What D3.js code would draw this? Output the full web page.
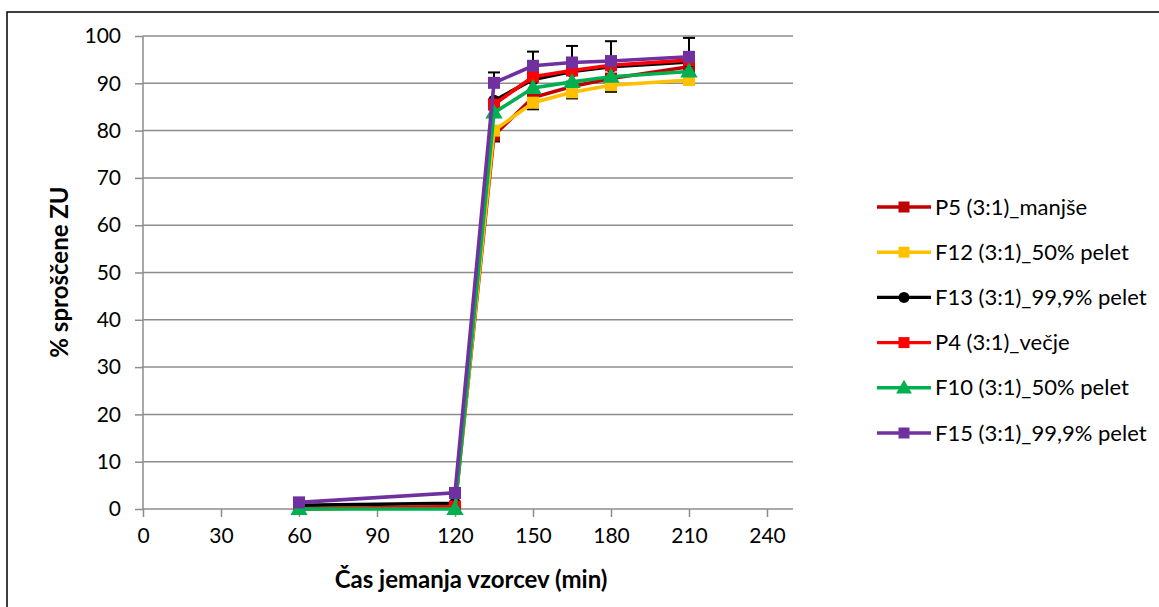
<!DOCTYPE html>
<html><head><meta charset="utf-8">
<script src="https://cdn.jsdelivr.net/npm/d3@7"></script>
<style>body{margin:0;background:#fff}svg{display:block}</style>
</head><body>
<script>
const times = [60, 120, 135, 150, 165, 180, 210];
const seriesNames = ["P5 (3:1)_manjše","F12 (3:1)_50% pelet","F13 (3:1)_99,9% pelet","P4 (3:1)_večje","F10 (3:1)_50% pelet","F15 (3:1)_99,9% pelet"];
const seriesColors = ["#C00000","#FFC000","#000000","#FF0000","#00B050","#7030A0"];
const seriesMarkers = ["square","square","circle","square","triangle","square"];
const p5 = [0.1, 0.3, 79.0, 87.0, 89.3, 91.0, 93.5];
const f12 = [0.0, 0.5, 80.0, 85.9, 88.1, 89.6, 90.7];
const f13 = [0.8, 1.2, 86.3, 90.8, 92.5, 93.5, 94.5];
const p4 = [0.0, 0.5, 85.5, 91.4, 92.7, 93.8, 94.9];
const f10 = [0.0, 0.0, 83.8, 89.0, 90.3, 91.4, 92.5];
const f15 = [1.4, 3.4, 90.1, 93.7, 94.4, 94.7, 95.6];
const f15ErrUp = [0, 0, 2.2, 3.0, 3.5, 4.2, 4.0];
const f12ErrDown = [0, 0, 0, 1.4, 1.3, 1.4, 0.7];
const p5ErrDown = [0, 0, 1.3, 0, 0, 0, 0];
const xTicks = [0, 30, 60, 90, 120, 150, 180, 210, 240];
const yTicks = [0, 10, 20, 30, 40, 50, 60, 70, 80, 90, 100];
const xTitle = "Čas jemanja vzorcev (min)";
const yTitle = "% sproščene ZU";

const allValues = [p5, f12, f13, p4, f10, f15];
const W = 1159, H = 607;
const FONT = "Lato, 'Open Sans', sans-serif";
const svg = d3.select("body").append("svg").attr("width", W).attr("height", H);
svg.append("rect").attr("x", 7).attr("y", 12).attr("width", 1170).attr("height", 620)
  .attr("fill", "#fff").attr("stroke", "#000").attr("stroke-width", 1.5);

const x = d3.scaleLinear().domain([0, 250]).range([143, 793]);
const y = d3.scaleLinear().domain([0, 100]).range([509, 36]);

// gridlines
svg.append("g").selectAll("line").data(yTicks.filter(d => d > 0)).join("line")
  .attr("x1", x(0)).attr("x2", x(250)).attr("y1", d => y(d)).attr("y2", d => y(d))
  .attr("stroke", "#8c8c8c").attr("stroke-width", 1.5);

// axes
const yAxis = svg.append("g").attr("transform", `translate(${x(0)},0)`)
  .call(d3.axisLeft(y).tickValues(yTicks).tickSize(8).tickPadding(14));
const xAxis = svg.append("g").attr("transform", `translate(0,${y(0)})`)
  .call(d3.axisBottom(x).tickValues(xTicks).tickSize(8).tickPadding(11));
[yAxis, xAxis].forEach(a => {
  a.select(".domain").attr("stroke", "#8c8c8c").attr("stroke-width", 1.5);
  a.selectAll(".tick line").attr("stroke", "#8c8c8c").attr("stroke-width", 1.5);
  a.selectAll("text").attr("font-family", FONT).attr("font-size", 21).attr("fill", "#000");
});
xAxis.select(".domain").attr("d", `M${x(0)},0H${x(250)}`);
yAxis.select(".domain").attr("d", `M0,${y(0)}V${y(100)}`);

// titles
svg.append("text").attr("x", 471).attr("y", 588).attr("text-anchor", "middle")
  .attr("font-family", FONT).attr("font-weight", "bold").attr("font-size", 24).text(xTitle);
svg.append("text").attr("transform", "translate(68,272) rotate(-90)").attr("text-anchor", "middle")
  .attr("font-family", FONT).attr("font-weight", "bold").attr("font-size", 24).text(yTitle);

function marker(g, type, cx, cy, color, s) {
  if (type === "square") g.append("rect").attr("x", cx - s/2).attr("y", cy - s/2).attr("width", s).attr("height", s).attr("fill", color);
  else if (type === "circle") g.append("circle").attr("cx", cx).attr("cy", cy).attr("r", s/2).attr("fill", color);
  else g.append("path").attr("d", d3.symbol(d3.symbolTriangle, s*s*0.9)()).attr("transform", `translate(${cx},${cy+1})`).attr("fill", color);
}

const line = d3.line().x((d, i) => x(times[i])).y(d => y(d));
const errs = {1: {down: f12ErrDown}, 0: {down: p5ErrDown}, 5: {up: f15ErrUp}};

allValues.forEach((vals, si) => {
  const g = svg.append("g");
  const e = errs[si];
  if (e) {
    const eg = g.append("g");
    times.forEach((t, i) => {
      const v = vals[i];
      const up = e.up ? e.up[i] : 0, dn = e.down ? e.down[i] : 0;
      if (up > 0) {
        eg.append("line").attr("x1", x(t)).attr("x2", x(t)).attr("y1", y(v)).attr("y2", y(v + up)).attr("stroke", "#000").attr("stroke-width", 2);
        eg.append("line").attr("x1", x(t) - 6).attr("x2", x(t) + 6).attr("y1", y(v + up)).attr("y2", y(v + up)).attr("stroke", "#000").attr("stroke-width", 2);
      }
      if (dn > 0) {
        eg.append("line").attr("x1", x(t)).attr("x2", x(t)).attr("y1", y(v)).attr("y2", y(v - dn)).attr("stroke", "#000").attr("stroke-width", 2);
        eg.append("line").attr("x1", x(t) - 6).attr("x2", x(t) + 6).attr("y1", y(v - dn)).attr("y2", y(v - dn)).attr("stroke", "#000").attr("stroke-width", 2);
      }
    });
  }
  g.append("path").attr("d", line(vals)).attr("fill", "none").attr("stroke", seriesColors[si]).attr("stroke-width", 3.6);
  vals.forEach((v, i) => marker(g, seriesMarkers[si], x(times[i]), y(v), seriesColors[si], 12));
});

// legend
const lg = svg.append("g");
seriesNames.forEach((n, i) => {
  const ly = 207 + i * 45.2;
  lg.append("line").attr("x1", 877).attr("x2", 931).attr("y1", ly).attr("y2", ly).attr("stroke", seriesColors[i]).attr("stroke-width", 3.4);
  marker(lg, seriesMarkers[i], 904, ly, seriesColors[i], 11);
  lg.append("text").attr("x", 935).attr("y", ly + 7.5).attr("font-family", FONT).attr("font-size", 22).text(n);
});
</script>
</body></html>
